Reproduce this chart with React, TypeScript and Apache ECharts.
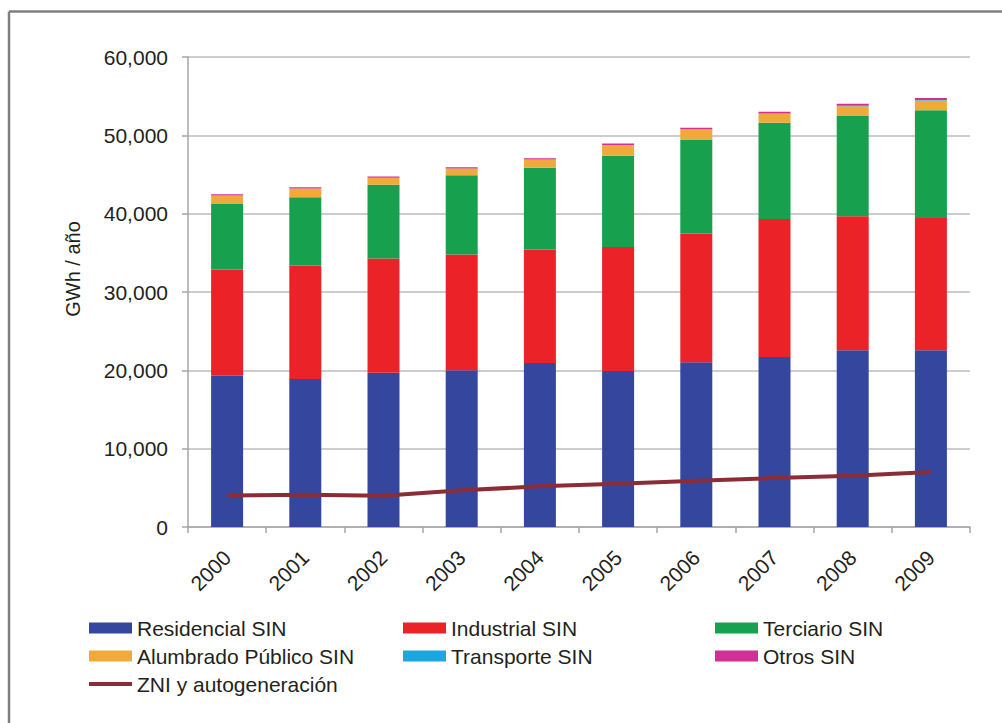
import React, { useEffect, useRef } from "react";
import * as echarts from "echarts";

const years = ["2000", "2001", "2002", "2003", "2004", "2005", "2006", "2007", "2008", "2009"];
const residencial = [19300, 18900, 19700, 20000, 20940, 19920, 21020, 21710, 22550, 22550];
const industrial = [13560, 14470, 14570, 14780, 14470, 15840, 16440, 17620, 17120, 16910];
const terciario = [8430, 8720, 9410, 10120, 10440, 11620, 12010, 12270, 12860, 13740];
const alumbrado = [1020, 1110, 890, 860, 1050, 1360, 1270, 1150, 1190, 1240];
const transporte = [20, 20, 20, 20, 20, 30, 40, 50, 60, 60];
const otros = [150, 150, 150, 150, 150, 200, 200, 220, 250, 270];
const zni = [4030, 4120, 4000, 4680, 5190, 5530, 5910, 6250, 6550, 7020];
const yTicks = { min: 0, max: 60000, interval: 10000 };
const yTitle = "GWh / año";

const FONT = "'Liberation Sans', Arial, sans-serif";
const TXT = "#231f20";

export default function App() {
  const ref = useRef<HTMLDivElement>(null);
  useEffect(() => {
    if (!ref.current) return;
    const chart = echarts.init(ref.current, undefined, { renderer: "svg" });
    const barSeries = [
      { name: "Residencial SIN", data: residencial, color: "#35469e" },
      { name: "Industrial SIN", data: industrial, color: "#ec2229" },
      { name: "Terciario SIN", data: terciario, color: "#17a04e" },
      { name: "Alumbrado Público SIN", data: alumbrado, color: "#f0a93a" },
      { name: "Transporte SIN", data: transporte, color: "#1ba7e0" },
      { name: "Otros SIN", data: otros, color: "#d12f96" },
    ].map((s) => ({
      name: s.name,
      type: "bar" as const,
      stack: "total",
      barWidth: 32,
      data: s.data,
      itemStyle: { color: s.color },
    }));
    const legendCommon = {
      orient: "vertical" as const,
      top: 617,
      padding: 0,
      itemWidth: 43,
      itemHeight: 11,
      itemGap: 6,
      icon: "rect",
      textStyle: { fontSize: 21, color: TXT, fontFamily: FONT, lineHeight: 22 },
    };
    const lineIcon = "path://M0,0 H43 V4 H0 Z";
    chart.setOption({
      animation: false,
      textStyle: { fontFamily: FONT },
      graphic: [
        {
          type: "line",
          shape: { x1: 9, y1: 11.5, x2: 1002, y2: 11.5 },
          style: { stroke: "#7f7f7f", lineWidth: 2.5 },
          silent: true,
        },
        {
          type: "line",
          shape: { x1: 9, y1: 11.5, x2: 9, y2: 723 },
          style: { stroke: "#7f7f7f", lineWidth: 2.5 },
          silent: true,
        },
        {
          type: "text",
          x: 73,
          y: 269,
          rotation: Math.PI / 2,
          style: {
            text: yTitle,
            fontSize: 20,
            fill: TXT,
            fontFamily: FONT,
            align: "center",
            verticalAlign: "middle",
          },
          silent: true,
        },
      ],
      legend: [
        {
          ...legendCommon,
          left: 89,
          data: [
            { name: "Residencial SIN" },
            { name: "Alumbrado Público SIN" },
            { name: "ZNI y autogeneración", icon: lineIcon },
          ],
        },
        {
          ...legendCommon,
          left: 403,
          data: [{ name: "Industrial SIN" }, { name: "Transporte SIN" }],
        },
        {
          ...legendCommon,
          left: 715,
          data: [{ name: "Terciario SIN" }, { name: "Otros SIN" }],
        },
      ],
      grid: { left: 188, right: 32, top: 57, bottom: 196, containLabel: false },
      xAxis: {
        type: "category",
        data: years,
        axisLine: { lineStyle: { color: "#a6a6a6", width: 1.5 } },
        axisTick: { show: true, length: 6, lineStyle: { color: "#a6a6a6", width: 1.5 } },
        axisLabel: { rotate: 45, fontSize: 21, color: TXT, margin: 27, fontFamily: FONT },
      },
      yAxis: {
        type: "value",
        min: yTicks.min,
        max: yTicks.max,
        interval: yTicks.interval,
        axisLine: { show: true, lineStyle: { color: "#a6a6a6", width: 1.5 } },
        axisTick: { show: true, length: 6, lineStyle: { color: "#a6a6a6", width: 1.5 } },
        axisLabel: {
          fontSize: 21,
          color: TXT,
          margin: 20,
          fontFamily: FONT,
          formatter: (v: number) => v.toLocaleString("en-US"),
        },
        splitLine: { lineStyle: { color: "#bdbdbd", width: 1.5 } },
      },
      series: [
        ...barSeries,
        {
          name: "ZNI y autogeneración",
          type: "line",
          data: zni,
          symbol: "none",
          z: 10,
          lineStyle: { color: "#8b2d36", width: 4 },
          itemStyle: { color: "#8b2d36" },
        },
      ],
    });
    return () => chart.dispose();
  }, []);
  return (
    <div
      ref={ref}
      style={{ position: "fixed", left: 0, top: 0, width: 1002, height: 723, background: "#fff" }}
    />
  );
}
